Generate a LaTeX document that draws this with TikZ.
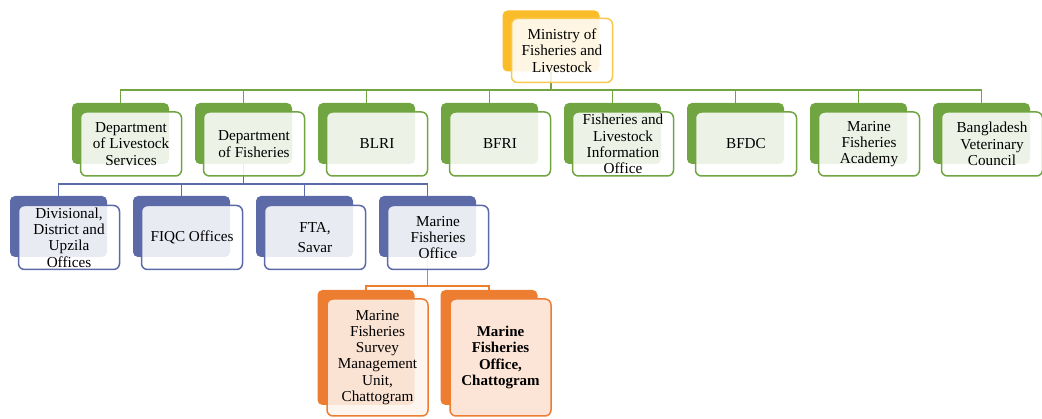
\documentclass[tikz,border=0pt]{standalone}
\usepackage{fontspec}
\setmainfont{Liberation Serif}
\usepackage{tikz}
\usetikzlibrary{positioning, calc}
\definecolor{leafgreen}{RGB}{112,165,66}
\definecolor{deptblue}{RGB}{92,106,168}
\definecolor{unitorange}{RGB}{237,125,49}
\definecolor{topgold}{RGB}{250,188,40}
\definecolor{goldedge}{RGB}{250,200,80}
\definecolor{peach}{RGB}{252,228,214}

\begin{document}
\begin{tikzpicture}[x=1pt, y=-1pt,
  every node/.style={font=\fontsize{15.2}{16.3}\selectfont, align=center, inner sep=0pt},
  back/.style={fill=#1, rounded corners=5pt, minimum width=97pt, minimum height=61pt},
  front/.style={draw=#1, line width=1.5pt, rounded corners=6pt, fill=white, fill opacity=0.87, text opacity=1, minimum width=101pt, minimum height=64pt},
  link/.style={line width=1.5pt}]
  \useasboundingbox (0,0) rectangle (1042,419);

  % Ministry
  \node[back=topgold] (min) at (551,41) {};

  % Second level
  \foreach \nm/\x in {dls/120.5, dof/243.5, blri/366.5, bfri/489.5, flio/612.5, bfdc/735.5, mfa/858.5, bvc/981.5}{
    \node[back=leafgreen] (\nm) at (\x,133.5) {};
  }

  % Under the Department of Fisheries
  \foreach \nm/\x in {dio/58.5, fiqc/181.5, fta/304.5, mfo/427.5}{
    \node[back=deptblue] (\nm) at (\x,226.5) {};
  }

  % Under the Marine Fisheries Office
  \node[back=unitorange, minimum height=115pt] (mfs) at (366,347.5) {};
  \node[back=unitorange, minimum height=115pt] (mfc) at (489,347.5) {};

  % Connectors
  \coordinate (gbus) at (551,90);
  \coordinate (bbus) at (243.5,184);
  \coordinate (obus) at (427.5,286);
  \draw[link, leafgreen] (min.south) -- (gbus);
  \foreach \nm in {dls, dof, blri, bfri, flio, bfdc, mfa, bvc}{
    \draw[link, leafgreen] (\nm.north) |- (gbus);
  }
  \draw[link, deptblue] (dof.south) -- (bbus);
  \foreach \nm in {dio, fiqc, fta, mfo}{
    \draw[link, deptblue] (\nm.north) |- (bbus);
  }
  \draw[link, unitorange] (mfo.south) -- (obus);
  \foreach \nm in {mfs, mfc}{
    \draw[link, unitorange] (\nm.north) |- (obus);
  }

  % Front boxes with the names
  \node[front=goldedge] (minf) at ([shift={(11,9.5)}]min.center) {Ministry of\\Fisheries and\\Livestock};
  \foreach \nm/\txt in {dls/{Department\\of Livestock\\Services}, dof/{Department\\of Fisheries}, blri/BLRI, bfri/BFRI,
      flio/{Fisheries and\\Livestock\\Information\\Office}, bfdc/BFDC, mfa/{Marine\\Fisheries\\Academy}, bvc/{Bangladesh\\Veterinary\\Council}}{
    \node[front=leafgreen] (\nm f) at ([shift={(10.5,10.5)}]\nm.center) {\txt};
  }
  \foreach \nm/\txt in {dio/{Divisional,\\District and\\Upzila\\Offices}, fiqc/{FIQC Offices}, fta/{FTA,\\[4pt]Savar}, mfo/{Marine\\Fisheries\\Office}}{
    \node[front=deptblue] (\nm f) at ([shift={(10.5,11)}]\nm.center) {\txt};
  }
  \node[front=unitorange, fill=peach!45, minimum height=117pt, font=\fontsize{15.2}{16.2}\selectfont] (mfsf) at ([shift={(11.5,10)}]mfs.center) {Marine\\Fisheries\\Survey\\Management\\Unit,\\Chattogram};
  \node[front=unitorange, fill=peach, fill opacity=1, minimum height=117pt, font=\fontsize{15}{16.3}\selectfont\bfseries] (mfcf) at ([shift={(11.5,10)}]mfc.center) {Marine\\Fisheries\\Office,\\Chattogram};
\end{tikzpicture}
\end{document}
